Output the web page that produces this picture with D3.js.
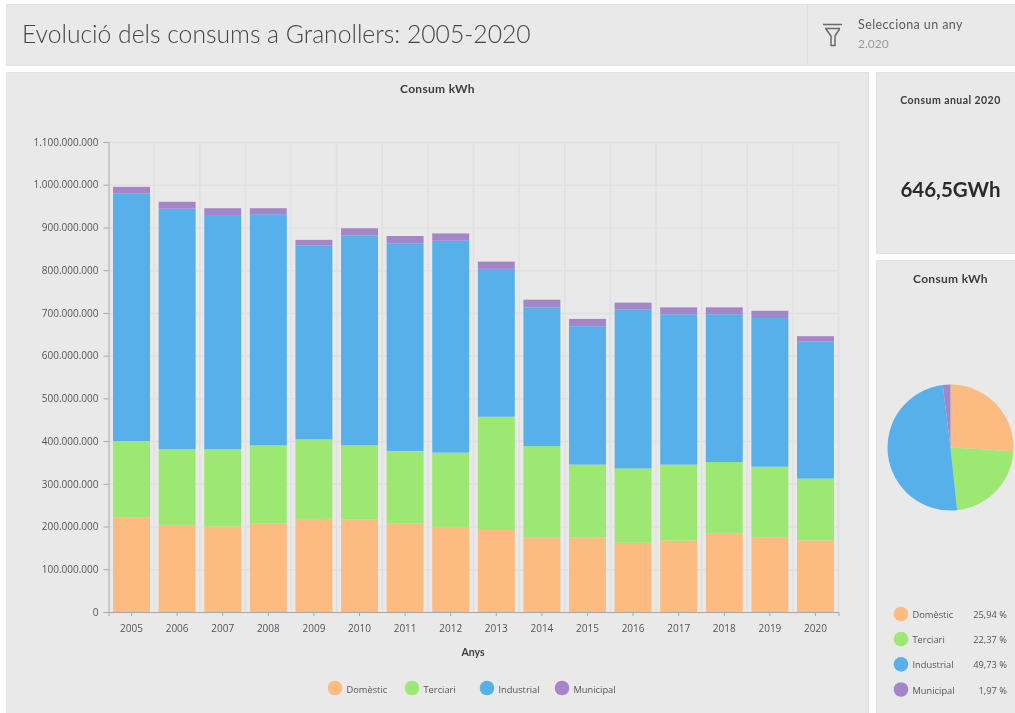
<!doctype html>
<html lang="ca">
<head>
<meta charset="utf-8">
<title>Evolució dels consums a Granollers</title>
<script src="https://cdn.jsdelivr.net/npm/d3@7"></script>
<style>
	html, body { margin: 0; padding: 0; background: #fff; overflow: hidden; }
	svg { display: block; font-family: Lato, "Open Sans", sans-serif; filter: blur(0.35px); }
	.panel { fill: #e9e9e9; stroke: #e2e2e2; }
	.grid line { stroke: #e0e0e0; stroke-width: 1.5; }
	.grid path { stroke: none; }
	.axis text { font-size: 10px; fill: #555; font-family: "Open Sans", sans-serif; }
	.axis path, .axis line { stroke: #a8a8a8; }
	.legend text { font-size: 9.3px; fill: #555; font-family: "Open Sans", sans-serif; }
</style>
</head>
<body>
<div id="viz"></div>
<script>
var years = ["2005","2006","2007","2008","2009","2010","2011","2012","2013","2014","2015","2016","2017","2018","2019","2020"];
var series = ["Domèstic","Terciari","Industrial","Municipal"];
var colors = ["#fdbb82","#9de872","#58b0ea","#a385c8"];

// kWh
var domestic   = [222e6,203e6,200e6,207e6,218e6,216e6,207e6,199e6,192e6,174e6,174e6,162e6,167e6,184e6,175e6,167.7e6];
var tertiary   = [178e6,178e6,181e6,183e6,186e6,174e6,170e6,174e6,265e6,214e6,171e6,174e6,178e6,167e6,165e6,144.6e6];
var industrial = [580e6,563e6,548e6,541e6,454e6,491e6,486e6,496e6,346e6,325e6,324e6,372e6,352e6,346e6,348e6,320.5e6];
var municipal  = [15e6,16e6,16e6,14e6,13e6,17e6,17e6,17e6,17e6,18e6,17e6,16e6,16e6,16e6,17e6,12.7e6];

var shares2020 = [25.94,22.37,49.73,1.97];
var yTicks = [0,1e8,2e8,3e8,4e8,5e8,6e8,7e8,8e8,9e8,10e8,11e8];

var w = 1015, h = 713;
var plot = {left: 108.5, right: 838.5, top: 142, bottom: 612};

var locale = d3.formatLocale({decimal: ",", thousands: ".", grouping: [3], currency: ["", "€"]});
var fmtInt = locale.format(",d");
var fmtPct = locale.format(".2f");

var svg = d3.select("#viz").append("svg").attr("width", w).attr("height", h);

// PANELS
var panels = [[6,4,1012,61],[6,72,862,644],[876,72,142,181],[876,260,142,456]];
svg.selectAll("rect.panel").data(panels).enter().append("rect")
	.attr("class", "panel")
	.attr("x", d => d[0] + .5).attr("y", d => d[1] + .5)
	.attr("width", d => d[2]).attr("height", d => d[3]);

svg.append("line").attr("x1", 807.5).attr("x2", 807.5).attr("y1", 5).attr("y2", 65).attr("stroke", "#dfdfdf");

function label(x, y, txt, size, color, weight, anchor) {
	return svg.append("text").attr("x", x).attr("y", y)
		.attr("font-size", size).attr("fill", color)
		.attr("font-weight", weight || 400)
		.attr("text-anchor", anchor || "start").text(txt);
}

// HEADER
label(22, 43, "Evolució dels consums a Granollers: 2005-2020", 24.7, "#444", 300);
label(858, 29, "Selecciona un any", 12.5, "#5c5c5c").attr("letter-spacing", .42);
label(858, 48, "2.020", 12, "#9a9a9a");

// funnel icon
svg.append("path")
	.attr("d", "M823 24.5H842M825 28.5H840M826 29L831 36V45.5H835V36L839.5 29")
	.attr("fill", "none").attr("stroke", "#6a6a6a").attr("stroke-width", 1.5);

// BAR CHART
var x = d3.scaleBand().domain(years).range([plot.left, plot.right]).paddingInner(0.19).paddingOuter(0.1);
var xGrid = d3.scaleBand().domain(years).range([plot.left, plot.right]);
var y = d3.scaleLinear().domain([0, 11e8]).range([plot.bottom, plot.top]);

label(437.5, 93, "Consum kWh", 12, "#3c3c3c", 700, "middle").attr("letter-spacing", .3);

var gridG = svg.append("g").attr("class", "grid");
gridG.append("g").attr("transform", "translate(0," + plot.bottom + ")")
	.call(d3.axisBottom(xGrid).tickValues(years).tickSize(plot.top - plot.bottom).tickFormat(""))
	.selectAll("line").attr("transform", d => "translate(" + (xGrid.bandwidth() / 2) + ",0)");
gridG.append("g").attr("transform", "translate(" + plot.left + ",0)")
	.call(d3.axisRight(y).tickValues(yTicks).tickSize(plot.right - plot.left).tickFormat(""));

var rows = years.map((yr, i) => ({
	year: yr,
	"Domèstic": domestic[i],
	"Terciari": tertiary[i],
	"Industrial": industrial[i],
	"Municipal": municipal[i]
}));
var stacked = d3.stack().keys(series)(rows);

svg.selectAll("g.layer").data(stacked).enter().append("g")
	.attr("class", "layer")
	.attr("fill", (d, i) => colors[i])
	.selectAll("rect").data(d => d).enter().append("rect")
	.attr("x", d => x(d.data.year))
	.attr("width", x.bandwidth())
	.attr("y", d => y(d[1]))
	.attr("height", d => y(d[0]) - y(d[1]));

svg.append("g").attr("class", "axis")
	.attr("transform", "translate(" + plot.left + ",0)")
	.call(d3.axisLeft(y).tickValues(yTicks).tickSize(5).tickPadding(5).tickFormat(fmtInt));

svg.append("g").attr("class", "axis")
	.attr("transform", "translate(0," + plot.bottom + ")")
	.call(d3.axisBottom(x).tickSize(4).tickPadding(9));

label(473, 656, "Anys", 10.5, "#3c3c3c", 700, "middle");

// bottom legend
var legendX = d3.scaleOrdinal().domain(series).range([335, 412, 487, 562]);
var legend = svg.append("g").attr("class", "legend").selectAll("g").data(series).enter().append("g")
	.attr("transform", d => "translate(" + legendX(d) + ",688)");
legend.append("circle").attr("r", 7.3).attr("fill", (d, i) => colors[i]);
legend.append("text").attr("x", 11.5).attr("y", 4.5).text(d => d);

// RIGHT PANELS
label(950.5, 104, "Consum anual 2020", 10.5, "#3c3c3c", 700, "middle").attr("letter-spacing", .45);
label(950.5, 197, "646,5GWh", 20.5, "#2a2a2a", 700, "middle");
label(950.5, 283, "Consum kWh", 12, "#3c3c3c", 700, "middle").attr("letter-spacing", .3);

var pie = d3.pie().sort(null)(shares2020);
var arc = d3.arc().innerRadius(0).outerRadius(63);
svg.append("g").attr("transform", "translate(950.5,447.5)")
	.selectAll("path").data(pie).enter().append("path")
	.attr("d", arc)
	.attr("fill", (d, i) => colors[i]);

var legendY = d3.scalePoint().domain(series).range([614, 689.5]);
var pieLegend = svg.append("g").attr("class", "legend").selectAll("g").data(series).enter().append("g")
	.attr("transform", d => "translate(901," + legendY(d) + ")");
pieLegend.append("circle").attr("r", 7.3).attr("fill", (d, i) => colors[i]);
pieLegend.append("text").attr("x", 11.5).attr("y", 4).text(d => d);
pieLegend.append("text").attr("x", 106).attr("y", 4).attr("text-anchor", "end")
	.text((d, i) => fmtPct(shares2020[i]) + " %");
</script>
</body>
</html>
